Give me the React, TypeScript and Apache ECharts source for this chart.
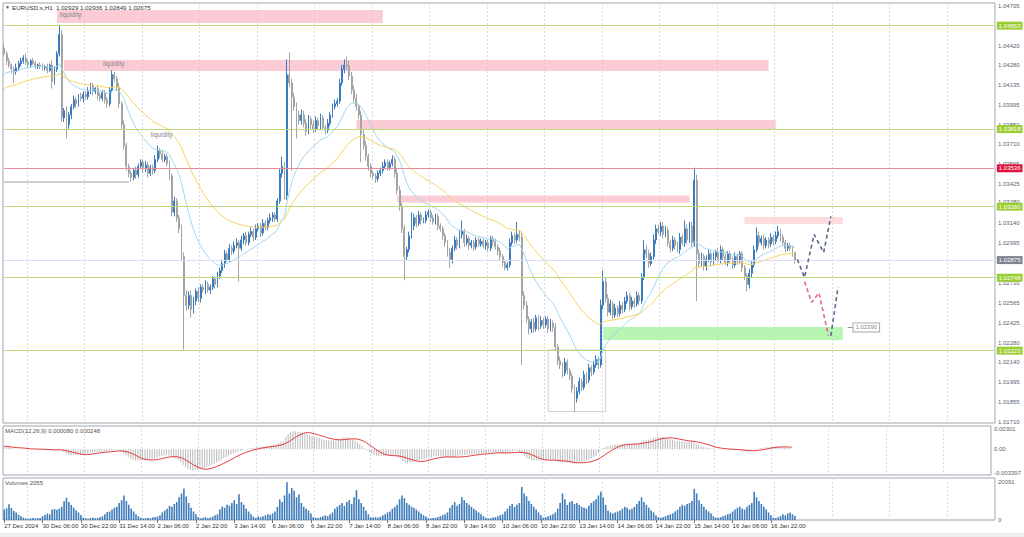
import React, { useEffect, useRef } from "react";
import * as echarts from "echarts";

const FONT = "'Liberation Sans', Arial, sans-serif";
const PIP = 0.0001;

// ---- data ----
const symbolName = "EURUSD.s,H1";
const headerQuote = ["1.02929", "1.02936", "1.02849", "1.02875"];
const firstOpen = 1.044;

const closes = [
  1.0436, 1.0431, 1.0428, 1.0425, 1.0423, 1.0426, 1.0429, 1.0431, 1.0433, 1.043,
  1.0428, 1.0431, 1.0429, 1.0427, 1.0428, 1.0427, 1.0426, 1.0427, 1.0424, 1.0428,
  1.0416, 1.0425, 1.0436, 1.045, 1.039, 1.0395, 1.0385, 1.0392, 1.0398, 1.0403,
  1.04, 1.0405, 1.0404, 1.0407, 1.0405, 1.0409, 1.0413, 1.0409, 1.0411, 1.0406,
  1.0404, 1.0408, 1.0403, 1.04, 1.041, 1.0421, 1.0418, 1.0412, 1.04, 1.0385,
  1.037, 1.0355, 1.035, 1.0347, 1.0352, 1.0349, 1.0355, 1.0358, 1.0353, 1.0356,
  1.035, 1.0354, 1.0352, 1.036, 1.0366, 1.0364, 1.036, 1.0362, 1.0357, 1.0348,
  1.0322, 1.033, 1.0318, 1.031, 1.029, 1.0262, 1.0255, 1.0262, 1.0252, 1.0258,
  1.0265, 1.026, 1.0268, 1.0266, 1.027, 1.0266, 1.0268, 1.0274, 1.027, 1.0276,
  1.028, 1.0285, 1.0292, 1.0288, 1.0296, 1.0294, 1.0298, 1.03, 1.0296, 1.0302,
  1.0305, 1.03, 1.0306, 1.0308, 1.0304, 1.031, 1.0312, 1.0307, 1.0314, 1.0311,
  1.0316, 1.0318, 1.032, 1.0317, 1.033, 1.035, 1.0355, 1.0334, 1.0421, 1.0415,
  1.0405, 1.0398, 1.0392, 1.0388, 1.0392, 1.0386, 1.038, 1.0389, 1.0385, 1.0382,
  1.0388, 1.0384, 1.039, 1.0383, 1.0381, 1.0386, 1.0392, 1.0398, 1.04, 1.0402,
  1.0415, 1.0425, 1.0428, 1.0427, 1.042, 1.041, 1.0404, 1.0398, 1.0392, 1.0378,
  1.037, 1.0362, 1.0355, 1.035, 1.0348, 1.0346, 1.035, 1.0352, 1.0355, 1.0358,
  1.0354, 1.0357, 1.036, 1.035, 1.0338, 1.0326, 1.031, 1.029, 1.0295, 1.0305,
  1.0312, 1.0318, 1.0314, 1.032, 1.0316, 1.0316, 1.032, 1.0322, 1.0318, 1.0315,
  1.0319, 1.0312, 1.031, 1.0305, 1.03, 1.0293, 1.0288, 1.0296, 1.0302, 1.0298,
  1.0306, 1.0308, 1.03, 1.0303, 1.0298, 1.03, 1.0297, 1.0302, 1.0299, 1.0301,
  1.0298, 1.03, 1.0296, 1.0303, 1.0301, 1.0297, 1.0294, 1.029, 1.0286, 1.0282,
  1.0284, 1.03, 1.0305, 1.0302, 1.0306, 1.0304, 1.0262, 1.0255, 1.0245, 1.0238,
  1.0243, 1.0238, 1.0246, 1.024, 1.0244, 1.0241, 1.0245, 1.0238, 1.0242, 1.0239,
  1.0225, 1.0215, 1.0212, 1.0206, 1.0214, 1.0208, 1.0204, 1.0195, 1.0188, 1.0193,
  1.02, 1.0196, 1.0205, 1.0201, 1.021, 1.0207, 1.0212, 1.0216, 1.0212, 1.0255,
  1.0272, 1.026, 1.025, 1.0256, 1.0248, 1.0253, 1.0249, 1.0255, 1.0252, 1.0258,
  1.0262, 1.0254, 1.0258, 1.0256, 1.0262, 1.0258, 1.0275, 1.0295, 1.0292, 1.0285,
  1.029, 1.0302, 1.031, 1.0308, 1.0312, 1.0306, 1.0309, 1.03, 1.0296, 1.0302,
  1.0298, 1.0295, 1.0304, 1.03, 1.031, 1.0302, 1.0312, 1.03, 1.0345, 1.0292,
  1.0285, 1.029, 1.0283, 1.0288, 1.0292, 1.0286, 1.029, 1.0293, 1.0288, 1.0295,
  1.029, 1.0286, 1.0292, 1.0288, 1.0284, 1.029, 1.0287, 1.0292, 1.0282, 1.0276,
  1.027, 1.0278, 1.0284, 1.0295, 1.0305, 1.03, 1.0303, 1.0298, 1.0302, 1.0299,
  1.0304, 1.0301, 1.0305, 1.0308, 1.0304, 1.03, 1.0296, 1.0298, 1.0296, 1.02929,
  1.02875,
];

// upper / lower wick lengths in pips beyond the candle body
const wickUp = [
  3, 2, 2, 1, 2, 3, 2, 2, 2, 3,
  2, 1, 2, 2, 1, 2, 2, 1, 2, 1,
  3, 2, 2, 7, 3, 2, 3, 2, 2, 3,
  2, 2, 3, 2, 2, 3, 2, 2, 1, 2,
  2, 2, 2, 2, 2, 3, 2, 2, 3, 2,
  3, 2, 2, 2, 2, 3, 2, 2, 2, 3,
  2, 2, 2, 3, 4, 2, 3, 2, 2, 2,
  2, 3, 2, 2, 3, 3, 4, 3, 4, 3,
  2, 3, 2, 2, 3, 2, 2, 2, 2, 3,
  2, 3, 3, 2, 3, 2, 3, 3, 2, 3,
  2, 3, 2, 3, 2, 3, 2, 2, 3, 2,
  2, 3, 2, 2, 2, 3, 7, 3, 11, 16,
  3, 3, 3, 3, 4, 3, 3, 3, 2, 3,
  3, 2, 3, 2, 2, 3, 2, 2, 3, 2,
  3, 3, 4, 6, 4, 3, 3, 3, 2, 3,
  3, 3, 2, 2, 2, 2, 2, 2, 3, 2,
  2, 2, 3, 2, 3, 3, 3, 3, 2, 3,
  10, 3, 2, 3, 2, 2, 3, 2, 2, 2,
  2, 2, 2, 2, 2, 2, 3, 2, 3, 2,
  3, 8, 2, 3, 2, 2, 2, 2, 2, 2,
  2, 2, 2, 2, 2, 2, 2, 2, 2, 2,
  2, 3, 3, 2, 9, 3, 4, 3, 3, 2,
  2, 3, 2, 2, 3, 2, 2, 2, 3, 2,
  3, 2, 3, 2, 3, 2, 2, 2, 3, 3,
  3, 2, 3, 2, 3, 2, 3, 3, 2, 4,
  8, 3, 3, 3, 2, 3, 2, 3, 2, 3,
  3, 2, 3, 2, 3, 2, 3, 7, 3, 3,
  3, 4, 3, 3, 3, 3, 3, 2, 2, 3,
  2, 3, 3, 2, 6, 3, 3, 3, 9, 4,
  3, 3, 2, 3, 3, 2, 3, 2, 3, 3,
  2, 3, 2, 2, 2, 3, 2, 2, 2, 2,
  2, 3, 3, 3, 6, 3, 2, 3, 2, 2,
  3, 2, 3, 4, 2, 2, 2, 2, 2, 2,
  0.7,
];
const wickDown = [
  2, 3, 2, 3, 8, 2, 2, 2, 2, 2,
  2, 2, 1, 2, 2, 2, 2, 2, 2, 1,
  5, 2, 2, 2, 3, 3, 10, 3, 3, 2,
  3, 2, 2, 3, 2, 2, 2, 3, 2, 3,
  2, 2, 3, 3, 2, 2, 2, 3, 3, 3,
  3, 3, 3, 3, 2, 3, 2, 2, 3, 2,
  3, 2, 3, 2, 2, 3, 2, 2, 2, 3,
  3, 3, 3, 3, 3, 39, 4, 3, 6, 3,
  3, 3, 3, 2, 3, 2, 3, 2, 3, 2,
  2, 2, 3, 2, 2, 3, 2, 2, 24, 2,
  3, 2, 2, 2, 3, 2, 2, 3, 2, 2,
  2, 2, 3, 2, 2, 2, 3, 3, 3, 3,
  53, 3, 17, 3, 3, 3, 3, 2, 3, 3,
  2, 3, 3, 2, 3, 2, 2, 2, 2, 2,
  2, 2, 3, 3, 3, 3, 3, 3, 3, 20,
  3, 3, 3, 3, 2, 3, 2, 2, 2, 2,
  2, 2, 2, 3, 3, 3, 3, 17, 3, 2,
  2, 3, 3, 2, 3, 2, 2, 2, 3, 2,
  2, 3, 2, 3, 3, 3, 6, 3, 2, 3,
  2, 3, 3, 2, 3, 2, 3, 2, 2, 2,
  2, 3, 2, 2, 3, 2, 3, 3, 3, 2,
  2, 2, 2, 3, 2, 3, 50, 3, 3, 4,
  3, 3, 2, 3, 2, 3, 2, 3, 2, 3,
  3, 3, 3, 3, 2, 3, 3, 3, 10, 3,
  2, 3, 2, 3, 2, 3, 2, 2, 3, 2,
  3, 3, 3, 2, 3, 2, 3, 2, 3, 2,
  2, 3, 2, 3, 2, 3, 2, 2, 3, 3,
  2, 2, 3, 2, 3, 3, 2, 3, 3, 2,
  3, 2, 3, 2, 3, 3, 2, 3, 3, 34,
  3, 2, 3, 3, 2, 3, 2, 3, 2, 3,
  3, 2, 3, 3, 3, 2, 3, 2, 3, 3,
  5, 3, 3, 2, 2, 3, 2, 3, 2, 3,
  2, 3, 2, 2, 3, 2, 3, 2, 2, 3,
  2.6,
];

const volumes = [
  // 27 Dec
  5600, 6200, 8300, 6300, 4800, 3900, 2800, 2000, 1200, 800,
  // 30 Dec
  700, 900, 1000, 800, 1000, 1100, 2000, 2600, 3400, 3000, 5600, 5800, 5400, 6000, 7000, 10000, 11800, 9500, 8000, 6500, 5200, 4000, 2600, 1200,
  // 31 Dec
  900, 700, 1000, 1200, 900, 1100, 1500, 2000, 3000, 4200, 4500, 5600, 6500, 7000, 9000, 10500, 13000, 10000, 8000, 6000, 4500, 3000, 2000, 1200,
  // 2 Jan
  800, 1000, 1200, 900, 1400, 1600, 1800, 2500, 4000, 5000, 6000, 7500, 7000, 8500, 9500, 12000, 14000, 16600, 12500, 9000, 6500, 4500, 3000, 1500,
  // 3 Jan
  900, 1200, 1500, 1000, 1300, 1800, 2500, 3000, 5500, 7000, 6500, 8000, 7500, 9000, 10500, 8500, 13600, 9500, 8000, 6000, 4500, 3000, 1800, 1000,
  // 6 Jan
  1800, 1500, 2000, 2500, 3000, 2800, 3500, 4500, 7000, 10900, 9500, 13000, 20000, 14000, 17000, 15500, 12000, 13500, 9000, 7000, 6000, 5000, 3500, 1500,
  // 7 Jan
  1200, 1000, 1500, 1800, 2500, 2000, 3000, 4000, 6000, 7000, 8000, 9000, 7500, 9500, 10500, 8500, 12000, 15800, 11000, 9000, 7000, 5000, 3000, 1500,
  // 8 Jan
  1300, 1500, 1200, 1800, 2500, 3000, 4000, 4500, 6000, 7000, 8000, 11000, 13000, 11500, 9000, 8000, 7000, 6500, 5500, 4500, 3500, 2500, 1800, 1000,
  // 9 Jan
  900, 1000, 1200, 1500, 2000, 2500, 3000, 4000, 6500, 8000, 9500, 7500, 8500, 12000, 10500, 9000, 8000, 7000, 6000, 5000, 4000, 3000, 2000, 1200,
  // 10 Jan
  800, 1000, 1300, 1500, 2000, 2500, 3000, 4500, 6000, 7500, 8500, 7000, 8000, 9000, 17500, 14000, 12500, 10000, 8500, 7000, 5500, 4000, 2500, 1200,
  // 13 Jan
  1500, 2000, 2500, 3000, 4000, 6000, 9000, 14000, 11000, 8000, 9500, 10000, 8500, 9000, 8000, 7000, 6500, 6000, 7500, 9000, 10000, 11000, 13000, 15000,
  // 14 Jan
  12000, 8000, 5000, 4000, 3500, 4000, 4500, 5000, 6000, 7000, 6500, 5500, 6000, 7000, 8500, 10000, 12000, 9500, 8000, 6500, 5000, 4000, 2500, 1500,
  // 15 Jan
  1200, 1500, 2000, 2500, 3000, 3500, 4500, 5500, 7000, 8000, 7500, 8500, 9000, 10000, 16500, 14000, 10500, 8500, 7000, 5500, 4500, 3500, 2000, 1200,
  // 16 Jan
  1300, 1500, 2000, 2500, 3000, 3500, 4500, 5500, 6500, 7000, 6000, 5500, 7000, 8000, 9000, 15000, 12000, 10000, 8500, 7000, 5500, 4000, 2500, 1200,
  // 17 Jan
  1000, 1500, 2000, 3000, 2500, 3500, 4000, 3000, 2055,
];

const xTickLabels = [
  "27 Dec 2024", "30 Dec 06:00", "30 Dec 22:00", "31 Dec 14:00", "2 Jan 06:00", "2 Jan 22:00",
  "3 Jan 14:00", "6 Jan 06:00", "6 Jan 22:00", "7 Jan 14:00", "8 Jan 06:00", "8 Jan 22:00",
  "9 Jan 14:00", "10 Jan 06:00", "10 Jan 22:00", "13 Jan 14:00", "14 Jan 06:00", "14 Jan 22:00",
  "15 Jan 14:00", "16 Jan 06:00", "16 Jan 22:00",
];
// visible price scale labels (those fully hidden behind price tags are left out)
const priceTickLabels = [
  "1.04705", "1.04420", "1.04280", "1.04135", "1.03995", "1.03850", "1.03710",
  "1.03565", "1.03425", "1.03280", "1.03140", "1.02995", "1.02710", "1.02565",
  "1.02425", "1.02280", "1.02140", "1.01995", "1.01855", "1.01710",
];
// label peeking out just above the 1.03260 tag
const labelNudge: Record<string, number> = { "1.03280": 0.00013 };
const macdTickLabels = ["0.00301", "0.00", "-0.003397"];
const volumeTickLabels = ["20091", "0"];

// horizontal levels
const supportLevels = [1.04563, 1.03818, 1.0326, 1.02748, 1.02223];
const keyLevel = 1.03536;
const lastPrice = 1.02875;
const oldLevel = { from: 0, to: 52, price: 1.03438 };
const targetLabel = { from: 352, to: 354, price: 1.0239, text: "1.02390" };

// zones [fromBar, toBar, upperPrice, lowerPrice]
const liquidityZones = [
  [22, 158, 1.04676, 1.04582],
  [25, 319, 1.04316, 1.04237],
  [147, 322, 1.03884, 1.03812],
  [164, 286, 1.0334, 1.0329],
];
const supplyZone = [309, 350, 1.03186, 1.03135];
const demandZone = [250, 350, 1.02394, 1.023];
const lowBox = [227, 251, 1.02228, 1.01785];
const liquidityNotes = [
  [23, 1.0464],
  [41, 1.04294],
  [61, 1.03777],
];

// projected paths [bar, price]
const pathUp = [[331, 1.0288], [334, 1.0275], [338, 1.0306], [342, 1.0293], [345, 1.0319]];
const pathDown = [[334, 1.0272], [337, 1.0257], [340, 1.0264], [344, 1.0233]];
const pathRebound = [[345, 1.0233], [348, 1.0268]];

// indicator settings / seeds
const fastPeriod = 20;
const slowPeriod = 50;
const fastSeed = 1.042;
const slowSeed = 1.041;
const macdStart = 0.0005;
const macdHeader = "MACD(12,26,9) 0.000080 0.000248";
const volumeHeader = "Volumes 2055";

const TOTAL_SLOTS = 414;

function ema(values: number[], period: number, seed: number) {
  const k = 2 / (period + 1);
  let e = seed;
  return values.map((v) => (e = v * k + e * (1 - k)));
}

function nearestLabel(values: number[], labels: string[], v: number) {
  let best = 0;
  values.forEach((m, i) => {
    if (Math.abs(m - v) < Math.abs(values[best] - v)) best = i;
  });
  return labels[best];
}

function buildOption() {
  const cats = Array.from({ length: TOTAL_SLOTS }, (_, i) => String(i));
  const candles = closes.map((c, i) => {
    const o = i === 0 ? firstOpen : closes[i - 1];
    const hi = Math.max(o, c) + wickUp[i] * PIP;
    const lo = Math.min(o, c) - wickDown[i] * PIP;
    return [o, c, lo, hi];
  });
  const fast = ema(closes, fastPeriod, fastSeed);
  const slow = ema(closes, slowPeriod, slowSeed);
  const e12 = ema(closes, 12, closes[0]);
  const e26 = ema(closes, 26, closes[0] - macdStart);
  const macd = e12.map((v, i) => v - e26[i]);
  const signal = macd.map((_, i) => {
    const s = Math.max(0, i - 8);
    const part = macd.slice(s, i + 1);
    return part.reduce((a, b) => a + b, 0) / part.length;
  });

  const isLabel = (idx: number) => idx % 16 === 0 && idx / 16 < xTickLabels.length;
  const isDay = (idx: number) => idx >= 10 && (idx - 10) % 24 === 0;

  const pink = "rgba(250,190,202,0.78)";
  const lineGreen = "#bcd97a";
  const lastSlot = TOTAL_SLOTS - 1;

  const zoneItem = (z: number[], style: any) => [
    { coord: [z[0], z[2]], itemStyle: style },
    { coord: [z[1], z[3]] },
  ];

  const tag = (text: string, bg: string) => ({
    show: true,
    position: "end",
    distance: 3,
    formatter: text,
    backgroundColor: bg,
    color: "#fff",
    fontSize: 6,
    fontFamily: FONT,
    padding: [1, 2, 1, 2],
  });

  const fullLine = (price: number, color: string, width: number, label: any) => [
    { coord: [0, price], lineStyle: { color, width, type: "solid" }, label },
    { coord: [lastSlot, price] },
  ];

  const priceValues = priceTickLabels.map((l) => Number(l) + (labelNudge[l] || 0));
  const macdValues = macdTickLabels.map(Number);
  const volValues = volumeTickLabels.map(Number);

  const xAxes = [0, 1, 2].map((g) => ({
    type: "category",
    gridIndex: g,
    data: cats,
    boundaryGap: true,
    axisLine: { show: false },
    axisTick:
      g === 2
        ? { show: true, interval: isLabel, alignWithLabel: true, length: 3, lineStyle: { color: "#777" } }
        : { show: false },
    axisLabel:
      g === 2
        ? {
            show: true,
            interval: isLabel,
            formatter: (_v: string, idx: number) => xTickLabels[idx / 16] ?? "",
            align: "left",
            fontSize: 6,
            color: "#333",
            margin: 3,
            fontFamily: FONT,
          }
        : { show: false },
    splitLine: { show: true, interval: isDay, lineStyle: { color: "#d6dae6", type: [2, 2], width: 1 } },
  }));

  const gridBase = { left: 3, right: 29, show: true, borderColor: "#9da5ae", borderWidth: 1, backgroundColor: "#fff" };
  const axisText = { fontSize: 6, color: "#5a6470", margin: 3, fontFamily: FONT };

  return {
    animation: false,
    backgroundColor: "#fff",
    grid: [
      { ...gridBase, top: 3, height: 420 },
      { ...gridBase, top: 426, height: 49 },
      { ...gridBase, top: 478, height: 42 },
    ],
    xAxis: xAxes,
    yAxis: [
      {
        type: "value",
        gridIndex: 0,
        position: "right",
        min: 1.01702,
        max: 1.04726,
        axisLine: { show: false },
        axisTick: { show: false },
        splitLine: { show: false },
        axisLabel: {
          ...axisText,
          customValues: priceValues,
          formatter: (v: number) => nearestLabel(priceValues, priceTickLabels, v),
        },
      },
      {
        type: "value",
        gridIndex: 1,
        position: "right",
        min: -0.00374,
        max: 0.00339,
        axisLine: { show: false },
        axisTick: { show: false },
        splitLine: { show: false },
        axisLabel: {
          ...axisText,
          customValues: macdValues,
          formatter: (v: number) => nearestLabel(macdValues, macdTickLabels, v),
        },
      },
      {
        type: "value",
        gridIndex: 2,
        position: "right",
        min: 0,
        max: 22206,
        axisLine: { show: false },
        axisTick: { show: false },
        splitLine: { show: false },
        axisLabel: {
          ...axisText,
          customValues: volValues,
          formatter: (v: number) => nearestLabel(volValues, volumeTickLabels, v),
        },
      },
    ],
    graphic: [
      { type: "text", left: 5, top: 4, style: { text: "▼", fontSize: 5, fill: "#555" } },
      {
        type: "text",
        left: 12,
        top: 4,
        style: { text: symbolName + "  " + headerQuote.join(" "), fontSize: 6.2, fill: "#333", fontFamily: FONT },
      },
      { type: "text", left: 5, top: 428, style: { text: macdHeader, fontSize: 6, fill: "#555", fontFamily: FONT } },
      { type: "text", left: 5, top: 480, style: { text: volumeHeader, fontSize: 6, fill: "#555", fontFamily: FONT } },
      { type: "rect", left: 0, top: 533, shape: { width: 1024, height: 4 }, style: { fill: "#eeeeee" } },
    ],
    series: [
      {
        name: "annotations",
        type: "line",
        xAxisIndex: 0,
        yAxisIndex: 0,
        data: [],
        z: 1,
        silent: true,
        markArea: {
          silent: true,
          label: { show: false },
          data: [
            ...liquidityZones.map((z) => zoneItem(z, { color: pink })),
            zoneItem(supplyZone, { color: "rgba(253,214,216,0.85)" }),
            zoneItem(demandZone, { color: "rgba(170,245,165,0.85)" }),
            zoneItem(lowBox, { color: "rgba(0,0,0,0)", borderColor: "#d0d0d0", borderWidth: 1 }),
          ],
        },
        markLine: {
          silent: true,
          symbol: ["none", "none"],
          animation: false,
          data: [
            ...supportLevels.map((p) => fullLine(p, lineGreen, 1.2, tag(p.toFixed(5), "#9acd32"))),
            fullLine(keyLevel, "#e88a98", 1.2, tag(keyLevel.toFixed(5), "#dc143c")),
            fullLine(lastPrice, "#dcdcf4", 1, tag(lastPrice.toFixed(5), "#7c8591")),
            [
              { coord: [oldLevel.from, oldLevel.price], lineStyle: { color: "#cfcfcf", width: 2, type: "solid" }, label: { show: false } },
              { coord: [oldLevel.to, oldLevel.price] },
            ],
            [
              {
                coord: [targetLabel.from, targetLabel.price],
                lineStyle: { color: "#9a9a9a", width: 1, type: "solid" },
                label: {
                  show: true,
                  position: "end",
                  distance: 1,
                  formatter: targetLabel.text,
                  color: "#888",
                  backgroundColor: "#fff",
                  borderColor: "#aaa",
                  borderWidth: 1,
                  padding: [1, 2, 1, 2],
                  fontSize: 6,
                  fontFamily: FONT,
                },
              },
              { coord: [targetLabel.to, targetLabel.price] },
            ],
          ],
        },
        markPoint: {
          silent: true,
          symbol: "circle",
          symbolSize: 1,
          itemStyle: { color: "rgba(0,0,0,0)" },
          label: {
            show: true,
            position: "right",
            distance: 0,
            formatter: "liquidity",
            color: "#858585",
            fontSize: 6.5,
            fontFamily: FONT,
          },
          data: liquidityNotes.map((n) => ({ coord: n })),
        },
      },
      {
        name: "EURUSD",
        type: "candlestick",
        xAxisIndex: 0,
        yAxisIndex: 0,
        z: 3,
        data: candles,
        barWidth: 1.4,
        itemStyle: {
          color: "#3b7cc0",
          color0: "#b9b9b9",
          borderColor: "#3b7cc0",
          borderColor0: "#a4a4a4",
          borderWidth: 1,
        },
      },
      {
        name: "fast",
        type: "line",
        xAxisIndex: 0,
        yAxisIndex: 0,
        z: 4,
        data: fast,
        showSymbol: false,
        lineStyle: { color: "#a3d5ef", width: 1 },
      },
      {
        name: "slow",
        type: "line",
        xAxisIndex: 0,
        yAxisIndex: 0,
        z: 4,
        data: slow,
        showSymbol: false,
        lineStyle: { color: "#f6d35c", width: 1 },
      },
      ...[
        [pathUp, "#5b6a8c"],
        [pathDown, "#e4668a"],
        [pathRebound, "#5b6a8c"],
      ].map(([pts, col]) => ({
        type: "line",
        xAxisIndex: 0,
        yAxisIndex: 0,
        z: 5,
        data: pts,
        showSymbol: false,
        lineStyle: { color: col, width: 1.6, type: [4, 3] },
      })),
      {
        name: "MACD",
        type: "bar",
        xAxisIndex: 1,
        yAxisIndex: 1,
        data: macd,
        barWidth: 1,
        itemStyle: { color: "#b9b9b9" },
      },
      {
        name: "Signal",
        type: "line",
        xAxisIndex: 1,
        yAxisIndex: 1,
        data: signal,
        showSymbol: false,
        lineStyle: { color: "#e83a3a", width: 1 },
        z: 4,
      },
      {
        name: "Volumes",
        type: "bar",
        xAxisIndex: 2,
        yAxisIndex: 2,
        data: volumes,
        barWidth: 1.6,
        itemStyle: { color: "#3f7cba" },
      },
    ],
  };
}

export default function App() {
  const ref = useRef<HTMLDivElement>(null);
  useEffect(() => {
    if (!ref.current) return;
    const chart = echarts.init(ref.current, null, { renderer: "svg" });
    chart.setOption(buildOption() as any);
    return () => chart.dispose();
  }, []);
  return (
    <div
      ref={ref}
      style={{ position: "fixed", left: 0, top: 0, width: 1024, height: 537, background: "#fff" }}
    />
  );
}
